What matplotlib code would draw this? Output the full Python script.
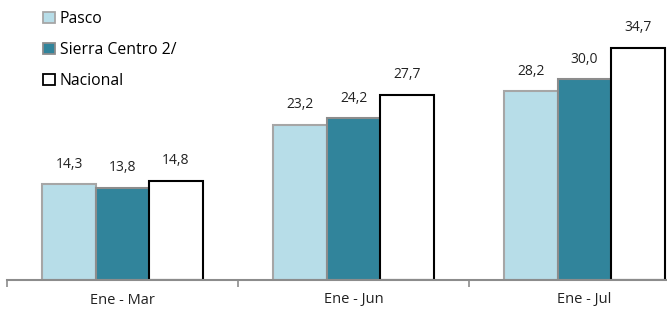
import numpy as np
import matplotlib.pyplot as plt
from matplotlib.patches import Patch

categories = ['Ene - Mar', 'Ene - Jun', 'Ene - Jul']
series_names = ['Pasco', 'Sierra Centro 2/', 'Nacional']
pasco = [14.3, 23.2, 28.2]
sierra = [13.8, 24.2, 30.0]
nacional = [14.8, 27.7, 34.7]

face_colors = ['#B7DDE8', '#31849B', '#FFFFFF']
edge_colors = ['#A6A6A6', '#8C8C8C', '#000000']

plt.rcParams['font.family'] = ['Open Sans', 'DejaVu Sans']

W, H = 667, 311
fig = plt.figure(figsize=(W / 100, H / 100), dpi=100)
ax = fig.add_axes([7 / W, 31 / H, 693 / W, 280 / H])

x = np.arange(len(categories))
width = 0.2316
values = [pasco, sierra, nacional]
for i, vals in enumerate(values):
    pos = x + (i - 1) * width
    ax.bar(pos, vals, width, color=face_colors[i], edgecolor=edge_colors[i],
           linewidth=1.5, zorder=2)
    for p, v in zip(pos, vals):
        ax.annotate(f'{v:.1f}'.replace('.', ','), (p, v), xytext=(0, 9),
                    textcoords='offset points', ha='center', va='bottom',
                    fontsize=10, color='#222222')

ax.set_xlim(-0.5, 2.5)
ax.set_ylim(0, 41.85)
ax.set_yticks([])
for s in ['top', 'right', 'left']:
    ax.spines[s].set_visible(False)
ax.spines['bottom'].set_color('#8C8C8C')
ax.spines['bottom'].set_linewidth(1.5)
ax.spines['bottom'].set_zorder(3)

ax.set_xticks([-0.5, 0.5, 1.5, 2.5])
ax.set_xticklabels([])
ax.tick_params(axis='x', length=5, width=1.2, color='#8C8C8C', direction='out')
ax.set_xticks(x, minor=True)
ax.set_xticklabels(categories, minor=True, fontsize=10.5, color='#222222')
ax.tick_params(axis='x', which='minor', length=0, pad=9)

handles = [Patch(facecolor=face_colors[i], edgecolor=edge_colors[i], linewidth=1.3)
           for i in range(3)]
fig.legend(handles, series_names, loc='upper left', bbox_to_anchor=(29 / W, 1.01),
           frameon=False, fontsize=11.3, handlelength=0.75, handleheight=0.75,
           handletextpad=0.3, labelspacing=0.95)

fig.savefig('out.png', dpi=100)
plt.close(fig)
